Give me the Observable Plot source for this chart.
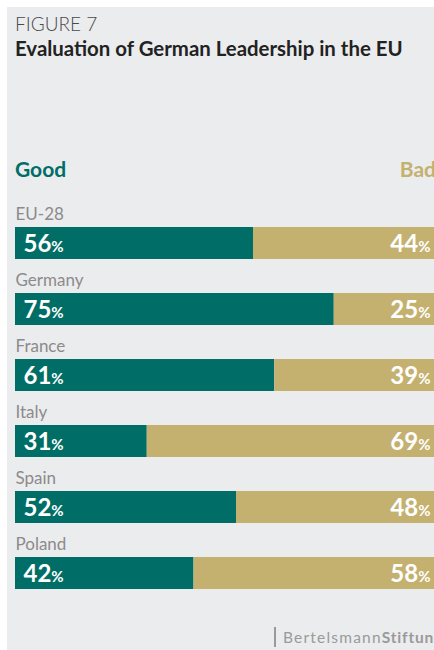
<!DOCTYPE html>
<html><head><meta charset="utf-8">
<script src="https://cdn.jsdelivr.net/npm/d3@7"></script>
<script src="https://cdn.jsdelivr.net/npm/@observablehq/plot@0.6"></script>
<style>
html,body{margin:0;padding:0;background:#fff;overflow:hidden;width:434px;height:650px;}
#wrap{position:absolute;left:7px;top:7px;width:470px;height:660px;background:#ebecee;font-family:Lato,sans-serif;}
.abs{position:absolute;white-space:nowrap;line-height:1.2;}
#fig{left:8px;top:6px;font-size:19px;font-weight:300;color:#4a4a4a;}
#title{left:8px;top:29px;font-size:20.4px;font-weight:700;color:#222;}
#good{left:8px;top:149px;font-size:21px;font-weight:700;color:#006e66;}
#bad{right:41px;top:149px;font-size:21px;font-weight:700;color:#c4b170;}
#chart{left:0;top:183px;line-height:0;}
#fline{left:267px;top:620px;width:1.5px;height:20px;background:#9a9a9a;}
#ftext{left:276px;top:621px;font-size:15.5px;color:#9a9a9a;letter-spacing:1.2px;}
#ftext b{letter-spacing:0.8px;}
</style></head>
<body>
<div id="wrap">
  <div class="abs" id="fig">FIGURE 7</div>
  <div class="abs" id="title">Evaluation of German Leadership in the EU</div>
  <div class="abs" id="good">Good</div>
  <div class="abs" id="bad">Bad</div>
  <div class="abs" id="chart"></div>
  <div class="abs" id="fline"></div>
  <div class="abs" id="ftext">Bertelsmann<b>Stiftung</b></div>
</div>
<script>
const countries = ["EU-28","Germany","France","Italy","Spain","Poland"];
const goodValues = [56,75,61,31,52,42];
const badValues = [44,25,39,69,48,58];
const responses = ["Good","Bad"];
const colors = ["#006e66","#c4b170"];

const rows = countries.flatMap((c,i)=>[
  {country:c, response:"Good", value:goodValues[i]},
  {country:c, response:"Bad", value:badValues[i]}
]);
const goodRows = rows.filter(d=>d.response==="Good");
const badRows = rows.filter(d=>d.response==="Bad");

const chart = Plot.plot({
  width: 470,
  height: 436,
  marginLeft: 8,
  marginRight: 37,
  marginTop: 0,
  marginBottom: 0,
  style: {fontFamily: "Lato, sans-serif", background: "transparent"},
  x: {domain: [0,100], axis: null},
  y: {domain: countries, axis: null, paddingInner: 0.51515, paddingOuter: 0.5606, align: 0.5},
  color: {domain: responses, range: colors},
  marks: [
    Plot.barX(rows, {x: "value", y: "country", fill: "response"}),
    Plot.text(countries, {y: d=>d, text: d=>d, frameAnchor: "left", textAnchor: "start", lineAnchor: "middle", dy: -29, fontSize: 17, fill: "#8b8b8b"}),
    Plot.text(goodRows, {y: "country", text: d=>d.value+"%", frameAnchor: "left", textAnchor: "start", lineAnchor: "middle", dx: 8, dy: 1, fontSize: 24, fontWeight: 700, fill: "white"}),
    Plot.text(badRows, {y: "country", text: d=>d.value+"%", frameAnchor: "right", textAnchor: "end", lineAnchor: "middle", dx: -10, dy: 1, fontSize: 24, fontWeight: 700, fill: "white"})
  ]
});
// shrink the % sign
chart.querySelectorAll("text").forEach(t=>{
  const m = /^(\d+)%$/.exec(t.textContent);
  if (m) {
    t.textContent = m[1];
    const ts = document.createElementNS("http://www.w3.org/2000/svg","tspan");
    ts.setAttribute("font-size","15");
    ts.textContent = "%";
    t.appendChild(ts);
  }
});
document.getElementById("chart").appendChild(chart);
</script>
</body></html>
